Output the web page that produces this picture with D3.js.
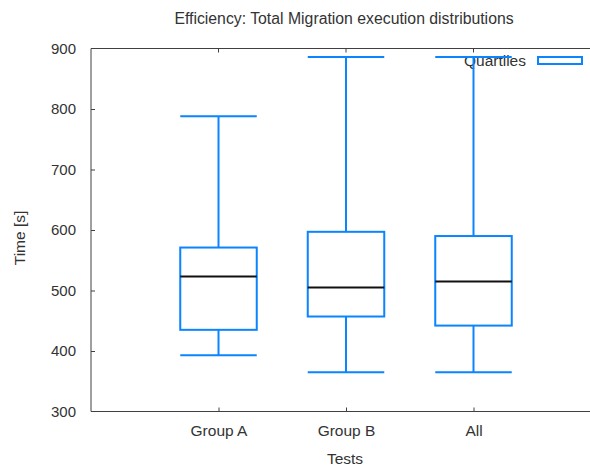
<!DOCTYPE html>
<html>
<head>
<meta charset="utf-8">
<script src="https://cdn.jsdelivr.net/npm/d3@7"></script>
<style>
  body { margin: 0; background: #fff; }
  svg { display: block; }
  text { font-family: "Liberation Sans", Arial, sans-serif; fill: #333; }
  .axis path, .axis line { stroke: #404040; }
</style>
</head>
<body>
<svg id="chart"></svg>
<script>
// chart data
const categories = ['Group A', 'Group B', 'All'];
const whiskerLow = [393, 365, 365];
const quartile1 = [435, 457, 442];
const medians = [523, 505, 515];
const quartile3 = [571, 597, 590];
const whiskerHigh = [788, 886, 886];
const yTicks = [300, 400, 500, 600, 700, 800, 900];

const width = 590, height = 466;
const margin = {top: 48.5, right: -11, bottom: 54.5, left: 91};
const boxColor = '#0a84ff';

const svg = d3.select('#chart')
    .attr('width', width)
    .attr('height', height);

const xScale = d3.scalePoint()
    .domain(categories)
    .range([margin.left, width - margin.right])
    .padding(1);

const yScale = d3.scaleLinear()
    .domain([300, 900])
    .range([height - margin.bottom, margin.top]);

const boxW = xScale.step() * 0.6;

// frame: left, bottom, top
const x0 = margin.left, x1 = width - margin.right;
const yTop = yScale(900), yBot = yScale(300);
svg.append('line').attr('x1', x0).attr('x2', x1).attr('y1', yTop).attr('y2', yTop)
    .attr('stroke', '#404040');

// y axis
const yAxis = d3.axisLeft(yScale).tickValues(yTicks).tickSize(-4).tickPadding(15);
const yAxisG = svg.append('g')
    .attr('class', 'axis')
    .attr('transform', `translate(${x0},0)`)
    .call(yAxis);
yAxisG.select('.domain').attr('d', `M0,${yTop}V${yBot}`);
yAxisG.selectAll('.tick line').filter(d => d === 300 || d === 900).remove();
yAxisG.selectAll('text').attr('font-size', 15).style('font-family', null);

// x axis
const xAxis = d3.axisBottom(xScale).tickSize(-4).tickPadding(13.5);
const xAxisG = svg.append('g')
    .attr('class', 'axis')
    .attr('transform', `translate(0,${yBot})`)
    .call(xAxis);
xAxisG.select('.domain').attr('d', `M${x0},0H${x1}`);
xAxisG.selectAll('text').attr('font-size', 15.5).style('font-family', null);

// top ticks
svg.append('g').selectAll('line')
    .data(categories)
    .join('line')
    .attr('x1', d => xScale(d)).attr('x2', d => xScale(d))
    .attr('y1', yTop).attr('y2', yTop + 4)
    .attr('stroke', '#404040');

// legend
svg.append('text')
    .attr('x', 526).attr('y', 66)
    .attr('text-anchor', 'end')
    .attr('font-size', 15.5)
    .text('Quartiles');
svg.append('rect')
    .attr('x', 538).attr('y', 57).attr('width', 44).attr('height', 7)
    .attr('fill', 'none').attr('stroke', boxColor).attr('stroke-width', 2);

// boxes
const boxes = svg.append('g').selectAll('g')
    .data(categories.map((c, i) => ({
      c, lo: whiskerLow[i], q1: quartile1[i], med: medians[i], q3: quartile3[i], hi: whiskerHigh[i]
    })))
    .join('g');

boxes.append('line')
    .attr('x1', d => xScale(d.c)).attr('x2', d => xScale(d.c))
    .attr('y1', d => yScale(d.hi)).attr('y2', d => yScale(d.q3))
    .attr('stroke', boxColor).attr('stroke-width', 2);
boxes.append('line')
    .attr('x1', d => xScale(d.c)).attr('x2', d => xScale(d.c))
    .attr('y1', d => yScale(d.q1)).attr('y2', d => yScale(d.lo))
    .attr('stroke', boxColor).attr('stroke-width', 2);
boxes.selectAll('.cap')
    .data(d => [[d.c, d.hi], [d.c, d.lo]])
    .join('line')
    .attr('x1', d => xScale(d[0]) - boxW / 2).attr('x2', d => xScale(d[0]) + boxW / 2)
    .attr('y1', d => yScale(d[1])).attr('y2', d => yScale(d[1]))
    .attr('stroke', boxColor).attr('stroke-width', 2);
boxes.append('rect')
    .attr('x', d => xScale(d.c) - boxW / 2)
    .attr('width', boxW)
    .attr('y', d => yScale(d.q3))
    .attr('height', d => yScale(d.q1) - yScale(d.q3))
    .attr('fill', 'none').attr('stroke', boxColor).attr('stroke-width', 2);
boxes.append('line')
    .attr('x1', d => xScale(d.c) - boxW / 2).attr('x2', d => xScale(d.c) + boxW / 2)
    .attr('y1', d => yScale(d.med)).attr('y2', d => yScale(d.med))
    .attr('stroke', '#111').attr('stroke-width', 2);

// titles
svg.append('text')
    .attr('x', 344).attr('y', 24)
    .attr('text-anchor', 'middle')
    .attr('font-size', 15.8)
    .text('Efficiency: Total Migration execution distributions');
svg.append('text')
    .attr('x', 345).attr('y', 464)
    .attr('text-anchor', 'middle')
    .attr('font-size', 15.5)
    .text('Tests');
svg.append('text')
    .attr('transform', 'translate(25,238) rotate(-90)')
    .attr('text-anchor', 'middle')
    .attr('font-size', 15.5)
    .text('Time [s]');
</script>
</body>
</html>
